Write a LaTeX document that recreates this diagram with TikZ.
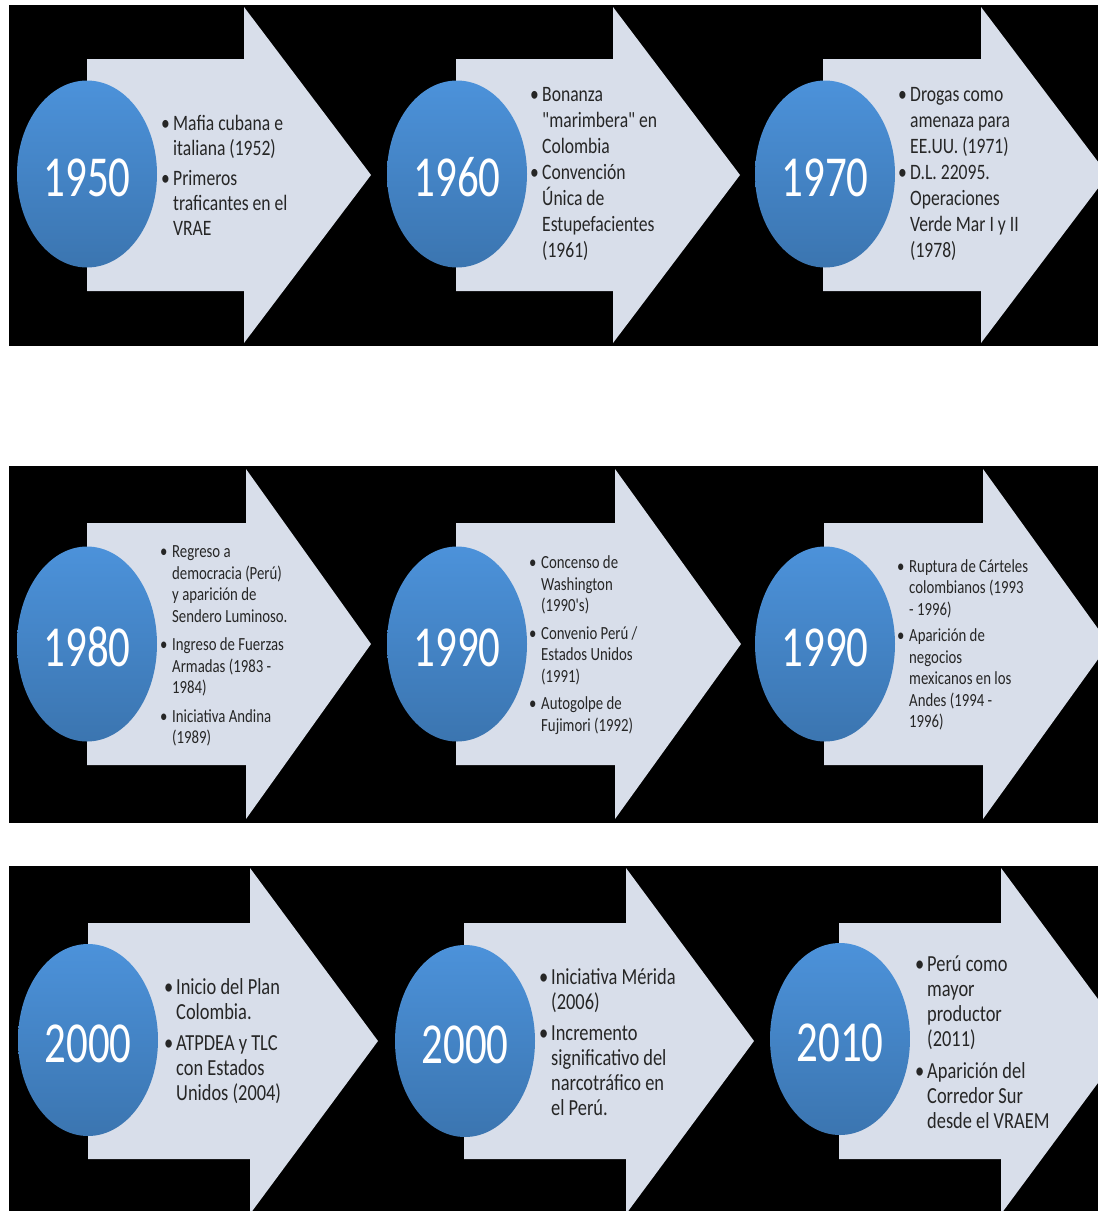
\documentclass[tikz,border=0pt]{standalone}
\usepackage{fontspec}
\newfontfamily\yearfont[FakeStretch=0.74]{Carlito}
\newfontfamily\itemfont[FakeStretch=0.8]{Carlito}
\usetikzlibrary{shapes.geometric}
\definecolor{arrowfill}{RGB}{216,222,234}
\definecolor{balltop}{RGB}{76,146,218}
\definecolor{ballbot}{RGB}{59,117,176}
\definecolor{itemtext}{RGB}{38,38,38}
\newcommand\bul{\makebox[12pt][l]{•}}
\newcommand\ind{\hspace*{12pt}}

\begin{document}
\begin{tikzpicture}[x=1pt,y=-1pt,
  year/.style={ellipse,inner sep=0pt,minimum width=140pt,top color=balltop,bottom color=ballbot,
    text=white,font=\yearfont\fontsize{58}{60}\selectfont,text height=45pt},
  items/.style={anchor=west,inner sep=0pt,align=left,text=itemtext},
  arr/.style={fill=arrowfill}]
\clip (0,0) rectangle (1098,1211);
\fill[white] (0,0) rectangle (1098,1211);
% black bands
\fill[black] (9,5) rectangle (1098,346);
\fill[black] (9,466) rectangle (1098,823);
\fill[black] (9,866) rectangle (1098,1211);
% arrows: body left / head base / tip / centre / half heights
\foreach \bx/\hx/\tx/\cy/\bh/\hh in {87/244/371/175/116/168,456/613/740/175/116/168,823/981/1108/175/116/168,
    87/246/371/644/121/175,456/615/741/644/121/175,824/983/1109/644/121/175,
    88/250/378/1041/118/173,464/626/754/1041/118/173,839/1001/1129/1041/118/173}
  \fill[arr] (\bx,\cy-\bh) -- (\hx,\cy-\bh) -- (\hx,\cy-\hh) -- (\tx,\cy) -- (\hx,\cy+\hh)
    -- (\hx,\cy+\bh) -- (\bx,\cy+\bh) -- cycle;
% first row
\node[year,minimum height=187pt] (c1950) at (87,174) {1950};
\node[year,minimum height=187pt] (c1960) at (457,174) {1960};
\node[year,minimum height=187pt] (c1970) at (825,174) {1970};
\node[items,font=\itemfont\fontsize{22}{25}\selectfont] (t1950) at (161,175.5)
  {\bul Mafia cubana e\\\ind italiana (1952)\\[5pt]\bul Primeros\\\ind traficantes en el\\\ind VRAE};
\node[items,font=\itemfont\fontsize{22}{26}\selectfont] (t1960) at (530,174)
  {\bul Bonanza\\\ind "marimbera" en\\\ind Colombia\\\bul Convención\\\ind Única de\\\ind Estupefacientes\\\ind (1961)};
\node[items,font=\itemfont\fontsize{22}{26}\selectfont] (t1970) at (898,174)
  {\bul Drogas como\\\ind amenaza para\\\ind EE.UU. (1971)\\\bul D.L. 22095.\\\ind Operaciones\\\ind Verde Mar I y II\\\ind (1978)};
% second row
\node[year,minimum height=195pt] (c1980) at (87,644) {1980};
\node[year,minimum height=195pt] (c1990a) at (457,644) {1990};
\node[year,minimum height=195pt] (c1990b) at (825,644) {1990};
\node[items,font=\itemfont\fontsize{18.5}{21.5}\selectfont] (t1980) at (160,646)
  {\bul Regreso a\\\ind democracia (Perú)\\\ind y aparición de\\\ind Sendero Luminoso.\\[7pt]\bul Ingreso de Fuerzas\\\ind Armadas (1983 -\\\ind 1984)\\[7pt]\bul Iniciativa Andina\\\ind (1989)};
\node[items,font=\itemfont\fontsize{18.5}{21.5}\selectfont] (t1990a) at (529,645)
  {\bul Concenso de\\\ind Washington\\\ind (1990's)\\[6pt]\bul Convenio Perú /\\\ind Estados Unidos\\\ind (1991)\\[6pt]\bul Autogolpe de\\\ind Fujimori (1992)};
\node[items,font=\itemfont\fontsize{18.5}{21.5}\selectfont] (t1990b) at (897,645)
  {\bul Ruptura de Cárteles\\\ind colombianos (1993\\\ind - 1996)\\[5pt]\bul Aparición de\\\ind negocios\\\ind mexicanos en los\\\ind Andes (1994 -\\\ind 1996)};
% third row
\node[year,minimum height=192pt] (c2000a) at (88,1040) {2000};
\node[year,minimum height=192pt] (c2000b) at (465,1041) {2000};
\node[year,minimum height=192pt] (c2010) at (840,1039) {2010};
\node[items,font=\itemfont\fontsize{23}{25}\selectfont] (t2000a) at (164,1041.5)
  {\bul Inicio del Plan\\\ind Colombia.\\[6pt]\bul ATPDEA y TLC\\\ind con Estados\\\ind Unidos (2004)};
\node[items,font=\itemfont\fontsize{23}{25}\selectfont] (t2000b) at (539,1042)
  {\bul Iniciativa Mérida\\\ind (2006)\\[6pt]\bul Incremento\\\ind significativo del\\\ind narcotráfico en\\\ind el Perú.};
\node[items,font=\itemfont\fontsize{23}{25}\selectfont] (t2010) at (915,1042)
  {\bul Perú como\\\ind mayor\\\ind productor\\\ind (2011)\\[7pt]\bul Aparición del\\\ind Corredor Sur\\\ind desde el VRAEM};
\end{tikzpicture}
\end{document}
